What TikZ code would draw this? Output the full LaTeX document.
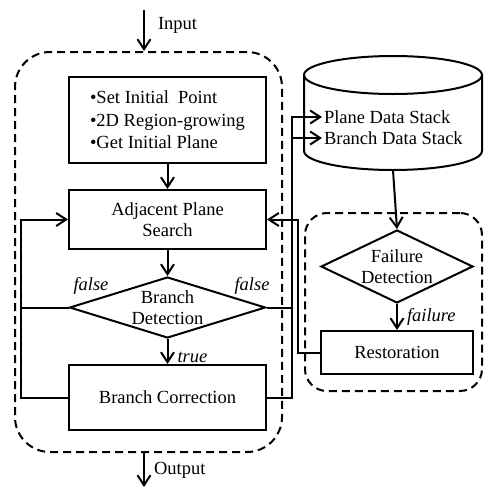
\documentclass[tikz,border=0pt]{standalone}
\usepackage{fontspec}
\setmainfont{Liberation Serif}
\usetikzlibrary{positioning,arrows.meta,shapes.geometric}

\begin{document}
\begin{tikzpicture}[
  x=1pt, y=-1pt, line width=2pt,
  font=\fontsize{18.5}{21}\selectfont, node distance=25pt,
  paso/.style={draw, align=center, minimum width=197pt, inner sep=2pt},
  rombo/.style={draw, diamond, align=center, inner sep=0pt, aspect=3.5},
  marco/.style={draw, dash pattern=on 8pt off 5pt, rounded corners=35pt},
  etiqueta/.style={font=\fontsize{18.5}{21}\selectfont\itshape, inner sep=1pt},
  flecha/.style={-{Straight Barb[length=10pt,width=13pt]}}
]
  \useasboundingbox (0,0) rectangle (483,488);
  % dashed frames
  \node[marco, minimum width=267pt, minimum height=400pt] (main) at (148.5,252) {};
  \node[marco, rounded corners=22pt, minimum width=177pt, minimum height=178pt] (side) at (393.5,302) {};
  % main flow
  \node[paso, minimum height=86pt, align=left] (init) at (167.5,120)
    {•Set Initial~ Point\\[1.5pt]•2D Region-growing\\[1.5pt]•Get Initial Plane};
  \node[paso, minimum height=59pt, below=of init] (search) {Adjacent Plane\\Search};
  \node[rombo, minimum width=196pt, minimum height=61pt, below=26pt of search] (detect) {Branch\\Detection};
  \node[paso, minimum height=65pt, below=of detect] (correct) {Branch Correction};
  % data stack
  \draw (304,75) -- (304,151) arc[start angle=180, end angle=360, x radius=89pt, y radius=19pt] -- (482,75);
  \draw (393,75) ellipse[x radius=89pt, y radius=19pt];
  \coordinate (stackbot) at (393,170);
  \node[anchor=west, inner sep=1pt] (plane) at (322,117) {Plane Data Stack};
  \node[anchor=west, inner sep=1pt] (branch) at (322,138) {Branch Data Stack};
  % failure handling
  \node[rombo, aspect=2, minimum width=152pt, minimum height=73pt] (fail) at (397,266.5) {Failure\\Detection};
  \node[paso, minimum width=152pt, minimum height=43pt, below=26pt of fail] (restore) {Restoration};
  % input / output
  \coordinate (in) at (144,10);
  \coordinate (out) at (144,487);
  \node[anchor=west, inner sep=1pt] (inlbl) at (156,25) {Input};
  \node[anchor=west, inner sep=1pt] (outlbl) at (152,470) {Output};
  \draw[flecha] (in) -- (in |- main.north);
  \draw[flecha] (main.south -| out) -- (out);
  % connectors
  \coordinate (lbus) at (21,0);
  \coordinate (rbus) at (292,0);
  \draw[flecha] (init) -- (search);
  \draw[flecha] (search) -- (detect);
  \draw[flecha] (detect) -- node[etiqueta, pos=0.72, right=8pt] (tlbl) {true} (correct);
  \draw (detect.west) -- (detect.west -| lbus);
  \draw[flecha] (correct.west) -- (correct.west -| lbus) |- (search.west);
  \draw (detect.east) -- (detect.east -| rbus);
  \draw[flecha] (correct.east) -- (correct.east -| rbus) |- (plane.west);
  \draw[flecha] (rbus |- branch.west) -- (branch.west);
  \draw[flecha] (stackbot) -- (fail.north);
  \draw[flecha] (fail) -- node[etiqueta, midway, right=8pt] (flbl) {failure} (restore);
  \draw[flecha] (restore.west) -- ++(-22,0) |- (search.east);
  \node[etiqueta, anchor=south west] (fleft) at ([shift={(3pt,11pt)}]detect.west) {false};
  \node[etiqueta, anchor=south east] (fright) at ([shift={(5pt,11pt)}]detect.east) {false};
\end{tikzpicture}
\end{document}
